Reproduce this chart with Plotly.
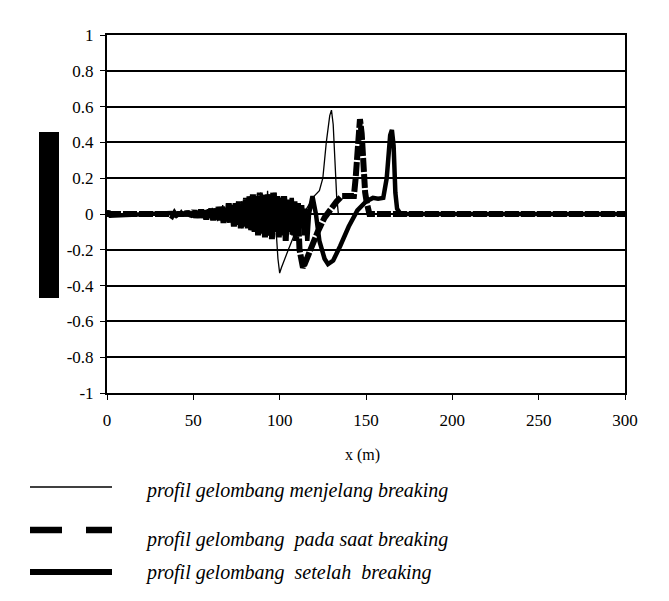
import plotly.graph_objects as go

# ---------------- data ----------------
# thin line: profil gelombang menjelang breaking
s1_x = [0, 1, 2, 3, 36,
        37, 38, 39, 40, 41, 42, 43, 44, 45, 46, 47, 48, 49, 50, 51, 52, 53, 54, 55, 56,
        57, 58, 59, 60, 61, 62, 63, 64, 65, 66, 67, 68, 69, 70, 71, 72, 73, 74, 75, 76,
        77, 78, 79, 80, 81, 82, 83, 84, 85, 86, 87, 88, 89, 90, 91, 92, 93, 94, 95, 96, 97,
        98, 99, 100, 101, 105, 110, 115, 120, 123, 125, 127, 129, 130, 131, 132, 133, 134, 300]
s1_y = [0, 0.02, -0.02, 0, 0.0,
        0.01, -0.01, 0.01, -0.01, 0.015, -0.01, 0.01, -0.015, 0.01,
        -0.01, 0.02, -0.015, 0.01, -0.02, 0.02, -0.015, 0.025, -0.02, 0.015,
        -0.025, 0.02, -0.03, 0.03, -0.02, 0.035, -0.03, 0.02, -0.04, 0.04,
        -0.03, 0.05, -0.04, 0.03, -0.05, 0.06, -0.04, 0.05, -0.06, 0.07,
        -0.05, 0.06, -0.08, 0.08, -0.06, 0.09, -0.07, 0.1, -0.09, 0.08,
        -0.1, 0.11, -0.08, 0.12, -0.1, 0.1, -0.12, 0.13, -0.09, 0.12,
        -0.11, 0.1,
        -0.1, -0.25, -0.33, -0.3, -0.2, -0.08, 0.02, 0.1, 0.13, 0.2, 0.4, 0.55, 0.58, 0.5, 0.3, 0.1, 0.0, 0.0]

# dashed line: profil gelombang pada saat breaking
s2_x = [0, 36,
        37.5, 38.5, 39.5, 40.5, 41.5, 42.5, 43.5, 44.5, 45.5, 46.5, 47.5, 48.5, 49.5, 50.5,
        51.5, 52.5, 53.5, 54.5, 55.5, 56.5, 57.5, 58.5, 59.5, 60.5, 61.5, 62.5, 63.5, 64.5,
        65.5, 66.5, 67.5, 68.5, 69.5, 70.5, 71.5, 72.5, 73.5, 74.5, 75.5, 76.5, 77.5, 78.5,
        79.5, 80.5, 81.5, 82.5, 83.5, 84.5, 85.5, 86.5, 87.5, 88.5, 89.5, 90.5, 91.5, 92.5,
        93.5, 94.5, 95.5, 96.5, 97.5, 98.5, 99.5, 100.5, 101.5, 102.5, 103.5, 104.5, 105.5,
        106.5, 107.5, 108.5, 109.5, 110.5, 111.5, 112.5,
        113.5, 114.5, 118, 122, 126, 130, 133, 136, 143, 144, 145.5, 146.5, 147.5, 148.5,
        149.5, 150.5, 152, 300]
s2_y = [0, 0.0,
        -0.01, 0.01, -0.015, 0.01, -0.01, 0.01, -0.01, 0.015, -0.01,
        0.015, -0.02, 0.01, -0.015, 0.02, -0.02, 0.015, -0.02, 0.025, -0.02,
        0.02, -0.03, 0.025, -0.02, 0.03, -0.035, 0.03, -0.03, 0.04, -0.035,
        0.04, -0.05, 0.035, -0.04, 0.06, -0.05, 0.05, -0.07, 0.06, -0.06,
        0.07, -0.08, 0.06, -0.07, 0.09, -0.08, 0.1, -0.09, 0.11, -0.1,
        0.1, -0.12, 0.12, -0.1, 0.11, -0.13, 0.1, -0.12, 0.11, -0.14,
        0.12, -0.1, 0.1, -0.13, 0.09, -0.12, 0.1, -0.15, 0.08, -0.1,
        0.07, -0.12, 0.05, -0.15, 0.03, -0.2, -0.25,
        -0.3, -0.28, -0.19, -0.1, -0.02, 0.04, 0.07, 0.1, 0.1, 0.2, 0.48, 0.53, 0.45, 0.2,
        0.12, 0.06, 0.0, 0.0]

# thick line: profil gelombang setelah breaking
s3_x = [0, 1, 2, 36,
        37, 38, 39, 40, 41, 42, 43, 44, 45, 46, 47, 48, 49, 50, 51, 52, 53, 54, 55, 56,
        57, 58, 59, 60, 61, 62, 63, 64, 65, 66, 67, 68, 69, 70, 71, 72, 73, 74, 75, 76,
        77, 78, 79, 80, 81, 82, 83, 84, 85, 86, 87, 88, 89, 90, 91, 92, 93, 94, 95, 96,
        97, 98, 99, 100, 101, 102, 103, 104, 105, 106, 107, 108, 109, 110, 111, 112,
        113, 114, 115, 116, 117,
        119, 121, 123, 126, 128, 131, 135, 140, 145, 150, 154, 157, 160, 162, 164, 165,
        166, 167, 168, 170, 300]
s3_y = [0, 0.015, -0.01, 0.0,
        0.005, -0.005, 0.01, -0.005, 0.01, -0.01, 0.005, -0.01, 0.01,
        -0.01, 0.015, -0.01, 0.01, -0.015, 0.01, -0.01, 0.015, -0.015, 0.01,
        -0.02, 0.02, -0.015, 0.025, -0.02, 0.02, -0.025, 0.03, -0.03, 0.03,
        -0.03, 0.04, -0.035, 0.03, -0.04, 0.05, -0.045, 0.04, -0.05, 0.06,
        -0.05, 0.05, -0.06, 0.07, -0.06, 0.08, -0.07, 0.06, -0.09, 0.09,
        -0.08, 0.1, -0.09, 0.09, -0.11, 0.1, -0.1, 0.11, -0.12, 0.09,
        -0.1, 0.12, -0.08, 0.1, -0.11, 0.09, -0.1, 0.1, -0.12, 0.08,
        -0.1, 0.09, -0.12, 0.07, -0.1, 0.06, -0.08,
        0.05, -0.12, 0.03, -0.15, 0.0,
        0.1, 0.0, -0.15, -0.25, -0.28, -0.26, -0.18, -0.07, 0.02, 0.07, 0.09, 0.085,
        0.09, 0.2, 0.44, 0.47, 0.38, 0.12, 0.03, 0.0, 0.0]

x_tick_vals = [0, 50, 100, 150, 200, 250, 300]
x_tick_text = ["0", "50", "100", "150", "200", "250", "300"]
y_tick_vals = [1, 0.8, 0.6, 0.4, 0.2, 0, -0.2, -0.4, -0.6, -0.8, -1]
y_tick_text = ["1", "0.8", "0.6", "0.4", "0.2", "0", "-0.2", "-0.4", "-0.6", "-0.8", "-1"]

series_names = ["profil gelombang menjelang breaking",
                "profil gelombang  pada saat breaking",
                "profil gelombang  setelah  breaking"]
x_title = "x (m)"

# ---------------- figure ----------------
FONT = "Liberation Serif"
fig = go.Figure()
fig.add_trace(go.Scatter(x=s3_x, y=s3_y, mode="lines", name=series_names[2],
                         line=dict(color="black", width=4.5)))
fig.add_trace(go.Scatter(x=s2_x, y=s2_y, mode="lines", name=series_names[1],
                         line=dict(color="black", width=6, dash="14px,2px")))
fig.add_trace(go.Scatter(x=s1_x, y=s1_y, mode="lines", name=series_names[0],
                         line=dict(color="black", width=1.3)))

L, R, T, B = 107, 44, 35, 208
W, H = 669, 601
pw, ph = W - L - R, H - T - B


def px(xp):
    return (xp - L) / pw


def py(yp):
    return (H - B - yp) / ph


fig.update_layout(
    width=W, height=H, margin=dict(l=L, r=R, t=T, b=B),
    paper_bgcolor="white", plot_bgcolor="white", showlegend=False,
    font=dict(family=FONT, size=17, color="black"),
    xaxis=dict(range=[0, 300], tickvals=x_tick_vals, ticktext=x_tick_text,
               showgrid=False, zeroline=False, showline=True, linecolor="black",
               linewidth=2, mirror=True, ticks="outside", ticklen=5, tickwidth=1,
               tickcolor="black", ticklabelstandoff=6,
               tickfont=dict(family=FONT, size=17)),
    yaxis=dict(range=[-1, 1], tickvals=y_tick_vals, ticktext=y_tick_text,
               showgrid=True, gridcolor="black", gridwidth=2, zeroline=False,
               showline=True, linecolor="black", linewidth=2, mirror=True,
               ticks="outside", ticklen=5, tickwidth=1, tickcolor="black",
               ticklabelstandoff=3,
               tickfont=dict(family=FONT, size=17)),
)

shapes = []
# black block where the y-axis title would be
shapes.append(dict(type="rect", xref="paper", yref="paper",
                   x0=px(39), x1=px(59), y0=py(298), y1=py(132),
                   fillcolor="black", line=dict(width=0)))
# custom legend samples
shapes.append(dict(type="line", xref="paper", yref="paper",
                   x0=px(30), x1=px(112), y0=py(487), y1=py(487),
                   line=dict(color="black", width=1.3)))
shapes.append(dict(type="line", xref="paper", yref="paper",
                   x0=px(30), x1=px(62), y0=py(530), y1=py(530),
                   line=dict(color="black", width=6.5)))
shapes.append(dict(type="line", xref="paper", yref="paper",
                   x0=px(86), x1=px(112), y0=py(530), y1=py(530),
                   line=dict(color="black", width=6.5)))
shapes.append(dict(type="line", xref="paper", yref="paper",
                   x0=px(30), x1=px(112), y0=py(572), y1=py(572),
                   line=dict(color="black", width=6)))
fig.update_layout(shapes=shapes)

annotations = [
    dict(text=x_title, xref="paper", yref="paper", x=px(362), y=py(455),
         showarrow=False, xanchor="center", yanchor="middle",
         font=dict(family=FONT, size=16)),
]
for name, yp in zip(series_names, [490, 539, 572]):
    annotations.append(dict(text="<i>" + name + "</i>", xref="paper", yref="paper",
                            x=px(143), y=py(yp), showarrow=False,
                            xanchor="left", yanchor="middle",
                            font=dict(family=FONT, size=20)))
fig.update_layout(annotations=annotations)

fig.write_html("out.html")
